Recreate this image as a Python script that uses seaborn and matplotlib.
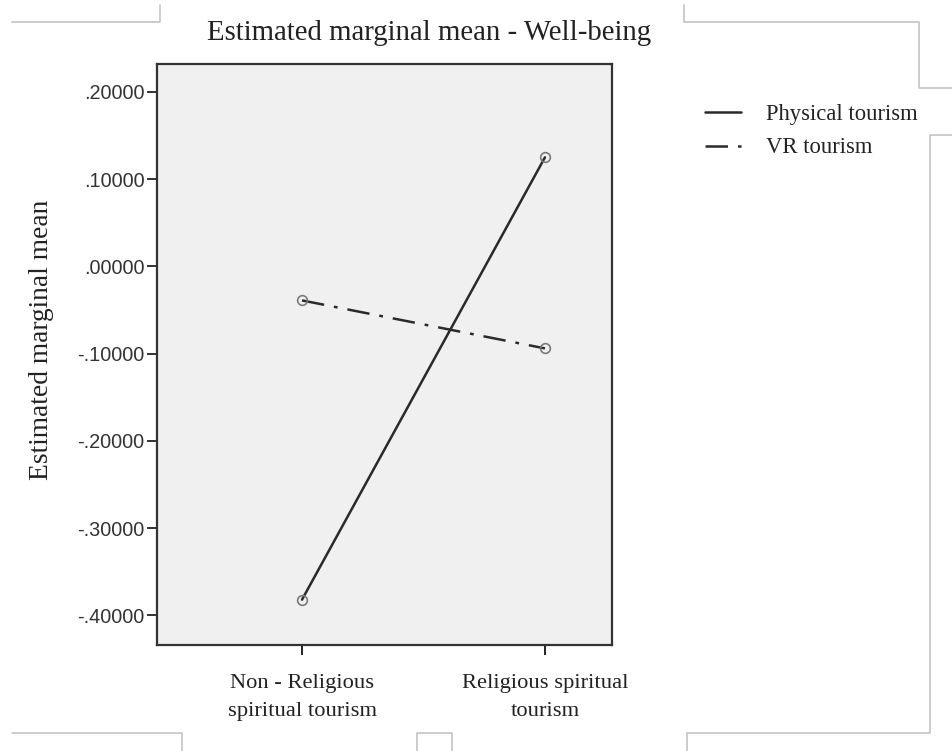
import matplotlib.pyplot as plt
import numpy as np
import pandas as pd
import seaborn as sns
from matplotlib.lines import Line2D
from matplotlib.ticker import FuncFormatter

# data
conditions = ["Non - Religious\nspiritual tourism", "Religious spiritual\ntourism"]
physical_means = [-0.382, 0.125]
vr_means = [-0.039, -0.094]
series_names = ["Physical tourism", "VR tourism"]
y_ticks = [-0.4, -0.3, -0.2, -0.1, 0.0, 0.1, 0.2]

df = pd.DataFrame({
    "x": [0, 1, 0, 1],
    "mean": physical_means + vr_means,
    "group": [series_names[0]] * 2 + [series_names[1]] * 2,
})

sns.set_style("ticks")
plt.rcParams["font.family"] = ["Liberation Serif", "DejaVu Serif"]
plt.rcParams["text.color"] = "#222222"

fig = plt.figure(figsize=(9.53, 7.51), dpi=100)
ax = fig.add_axes([0.1647, 0.1411, 0.4775, 0.7737])
ax.set_facecolor("#f0f0f0")

styles = {"Physical tourism": "-", "VR tourism": (0, (9, 4, 1.5, 4))}
for name in series_names:
    sub = df[df["group"] == name]
    sns.lineplot(data=sub, x="x", y="mean", ax=ax, color="#2a2a2a", lw=1.8,
                 linestyle=styles[name], marker="o", markersize=7,
                 markerfacecolor="none", markeredgecolor="#7a7a7a",
                 markeredgewidth=1.2, label=name, legend=False)

ax.set_xlim(-0.597, 1.276)
ax.set_ylim(-0.434, 0.232)
ax.set_xticks([0, 1])
ax.set_xticklabels(conditions, fontsize=16.2, linespacing=1.6)
ax.set_yticks(y_ticks)
ax.yaxis.set_major_formatter(FuncFormatter(lambda v, p: f"{v:.5f}".replace("0.", ".", 1)))
for lab in ax.get_yticklabels():
    lab.set_fontfamily("Liberation Sans")
    lab.set_fontsize(14.3)
    lab.set_color("#333333")
ax.tick_params(axis="y", length=7, width=1.4, pad=2, colors="#333333")
ax.tick_params(axis="x", length=7, width=1.4, pad=14, colors="#222222")
ax.set_xlabel("")
ax.set_ylabel("")
for s in ax.spines.values():
    s.set_visible(True)
    s.set_linewidth(1.6)
    s.set_color("#333333")

fig.text(429 / 953, 1 - 33 / 751, "Estimated marginal mean - Well-being",
         ha="center", va="center", fontsize=20.7)
fig.text(42 / 953, 1 - 340 / 751, "Estimated marginal mean",
         ha="center", va="center", rotation=90, fontsize=19.8)

handles = [Line2D([], [], color="#2a2a2a", lw=1.8, linestyle=styles[n]) for n in series_names]
fig.legend(handles, series_names, loc="upper left", bbox_to_anchor=(705 / 953, 1 - 104 / 751),
           frameon=False, fontsize=16.3, handlelength=1.6, handletextpad=1.1,
           labelspacing=0.55, borderpad=0, borderaxespad=0)

# faint page crop marks around the figure
marks = [
    [(12, 22), (160, 22), (160, 5)],
    [(684, 5), (684, 22), (919, 22), (919, 88), (953, 88)],
    [(953, 135), (930, 135), (930, 733), (687, 733), (687, 751)],
    [(12, 733), (182, 733), (182, 751)],
    [(417, 751), (417, 733), (452, 733), (452, 751)],
]
for pts in marks:
    xs = [p[0] / 953 for p in pts]
    ys = [1 - p[1] / 751 for p in pts]
    fig.add_artist(Line2D(xs, ys, color="#c4c4c4", lw=1.2, transform=fig.transFigure))

fig.savefig("out.png", dpi=100, facecolor="white")
